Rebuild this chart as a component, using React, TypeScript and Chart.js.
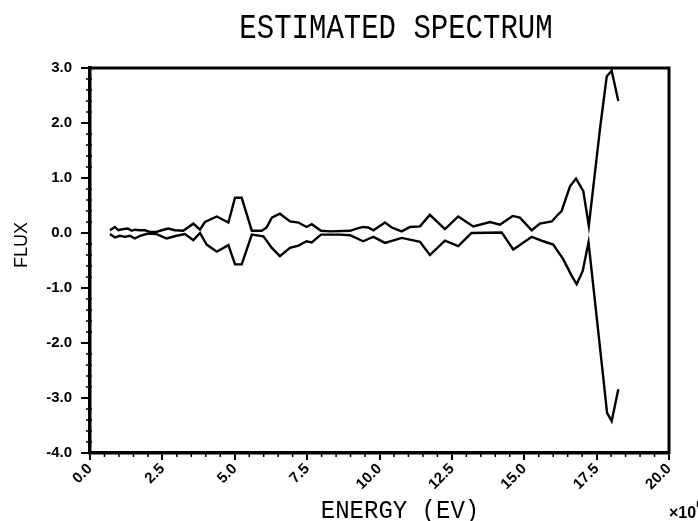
import React, { useEffect, useRef } from "react";
import { Chart, registerables } from "chart.js";
Chart.register(...registerables);

const TITLE = "ESTIMATED SPECTRUM";
const X_LABEL = "ENERGY (EV)";
const Y_LABEL = "FLUX";
const X_MULT = "×10";
const X_EXP = "6";

const X_TICKS = [0, 2.5, 5, 7.5, 10, 12.5, 15, 17.5, 20];
const Y_TICKS = [-4, -3, -2, -1, 0, 1, 2, 3];

const upperX = [0.69, 0.86, 0.98, 1.14, 1.31, 1.44, 1.55, 1.73, 1.9, 2.07, 2.3, 2.48, 2.7, 2.94, 3.22, 3.57, 3.8, 3.97, 4.38, 4.78, 5.01, 5.24, 5.59, 5.93, 6.1, 6.28, 6.56, 6.91, 7.2, 7.48, 7.66, 7.98, 8.3, 8.98, 9.21, 9.44, 9.61, 9.79, 10.19, 10.42, 10.77, 11.05, 11.4, 11.74, 12.26, 12.72, 13.24, 13.82, 14.16, 14.6, 14.85, 15.26, 15.54, 15.95, 16.12, 16.29, 16.58, 16.79, 17.04, 17.23, 17.62, 17.85, 18.02, 18.25];
const upperY = [0.05, 0.11, 0.05, 0.07, 0.08, 0.04, 0.06, 0.05, 0.05, 0.02, 0.02, 0.05, 0.08, 0.05, 0.04, 0.17, 0.06, 0.2, 0.3, 0.19, 0.64, 0.64, 0.04, 0.04, 0.1, 0.28, 0.35, 0.21, 0.19, 0.11, 0.16, 0.04, 0.03, 0.04, 0.08, 0.11, 0.1, 0.05, 0.19, 0.1, 0.03, 0.11, 0.12, 0.33, 0.07, 0.3, 0.12, 0.2, 0.15, 0.31, 0.28, 0.05, 0.17, 0.21, 0.31, 0.4, 0.85, 0.99, 0.76, 0.13, 1.91, 2.85, 2.95, 2.4];

const lowerX = [0.69, 0.86, 1.04, 1.21, 1.38, 1.55, 1.73, 2.01, 2.3, 2.65, 2.99, 3.28, 3.57, 3.8, 4.03, 4.38, 4.78, 5.01, 5.24, 5.59, 5.99, 6.28, 6.56, 6.91, 7.2, 7.48, 7.66, 7.98, 8.64, 8.98, 9.44, 9.65, 9.79, 10.19, 10.77, 11.4, 11.74, 12.26, 12.72, 13.18, 14.22, 14.62, 15.26, 15.66, 16.0, 16.34, 16.64, 16.81, 17.02, 17.22, 17.73, 17.86, 18.02, 18.25];
const lowerY = [-0.02, -0.08, -0.05, -0.07, -0.05, -0.1, -0.05, -0.01, -0.02, -0.1, -0.05, -0.02, -0.13, 0.0, -0.21, -0.34, -0.22, -0.57, -0.57, -0.03, -0.06, -0.27, -0.42, -0.27, -0.23, -0.15, -0.17, -0.03, -0.03, -0.04, -0.15, -0.1, -0.07, -0.18, -0.09, -0.16, -0.4, -0.14, -0.24, 0.0, 0.01, -0.3, -0.07, -0.15, -0.21, -0.47, -0.78, -0.93, -0.69, -0.17, -2.63, -3.27, -3.42, -2.84];

const pts = (xs: number[], ys: number[]) => xs.map((x, i) => ({ x, y: ys[i] }));

const decorPlugin = {
  id: "decor",
  afterDraw(chart: any) {
    const ctx = chart.ctx as CanvasRenderingContext2D;
    const { left, right, top, bottom } = chart.chartArea;
    const xs = chart.scales.x;
    const ys = chart.scales.y;
    ctx.save();
    ctx.strokeStyle = "#000";
    ctx.fillStyle = "#000";
    // top and right frame
    ctx.lineWidth = 3;
    ctx.beginPath();
    ctx.moveTo(left - 1, top);
    ctx.lineTo(right, top);
    ctx.lineTo(right, bottom + 1);
    ctx.stroke();
    // minor ticks
    ctx.lineWidth = 1.5;
    ctx.beginPath();
    for (let i = 1; i < 40; i++) {
      if (i % 5 === 0) continue;
      const px = xs.getPixelForValue(i * 0.5);
      ctx.moveTo(px, bottom - 2);
      ctx.lineTo(px, bottom + 4);
    }
    for (let i = 1; i < 35; i++) {
      if (i % 5 === 0) continue;
      const py = ys.getPixelForValue(-4 + i * 0.2);
      ctx.moveTo(left - 4, py);
      ctx.lineTo(left + 2, py);
    }
    ctx.stroke();
    // title
    ctx.save();
    ctx.translate(396, 38);
    ctx.scale(1, 1.2);
    ctx.font = '29px "Liberation Mono"';
    ctx.textAlign = "center";
    ctx.textBaseline = "alphabetic";
    ctx.fillText(TITLE, 0, 0);
    ctx.restore();
    // x label
    ctx.save();
    ctx.translate(400, 518);
    ctx.scale(1, 1.1);
    ctx.font = '24px "Liberation Mono"';
    ctx.textAlign = "center";
    ctx.textBaseline = "alphabetic";
    ctx.fillText(X_LABEL, 0, 0);
    ctx.restore();
    // multiplier
    ctx.font = 'bold 16px "Liberation Sans"';
    ctx.textAlign = "left";
    ctx.textBaseline = "alphabetic";
    ctx.fillText(X_MULT, 669, 518);
    const w = ctx.measureText(X_MULT).width;
    ctx.font = 'bold 11px "Liberation Sans"';
    ctx.fillText(X_EXP, 669 + w, 508);
    // y label
    ctx.save();
    ctx.translate(27, 245);
    ctx.rotate(-Math.PI / 2);
    ctx.font = '18px "Liberation Sans"';
    ctx.textAlign = "center";
    ctx.textBaseline = "alphabetic";
    ctx.fillText(Y_LABEL, 0, 0);
    ctx.restore();
    ctx.restore();
  },
};

export default function App() {
  const ref = useRef<HTMLCanvasElement>(null);
  useEffect(() => {
    const tickFont = { family: "Liberation Sans", size: 15, weight: "bold" as const };
    const chart = new Chart(ref.current!, {
      type: "line",
      data: {
        datasets: [
          { data: pts(upperX, upperY), borderColor: "#000", borderWidth: 2.4, pointRadius: 0, fill: false, tension: 0 },
          { data: pts(lowerX, lowerY), borderColor: "#000", borderWidth: 2.4, pointRadius: 0, fill: false, tension: 0 },
        ],
      },
      options: {
        animation: false,
        responsive: true,
        maintainAspectRatio: false,
        layout: { padding: { top: 68, right: 29, left: 0, bottom: 0 } },
        plugins: { legend: { display: false }, tooltip: { enabled: false }, title: { display: false } },
        scales: {
          x: {
            type: "linear",
            min: 0,
            max: 20,
            afterBuildTicks: (s: any) => { s.ticks = X_TICKS.map((v) => ({ value: v })); },
            afterFit: (s: any) => { s.height = 68; },
            grid: { display: true, drawOnChartArea: false, drawTicks: true, tickLength: 7, color: "#000", lineWidth: 2 },
            border: { display: true, color: "#000", width: 3.5 },
            ticks: { color: "#000", font: tickFont, padding: 0, maxRotation: 45, minRotation: 45, autoSkip: false, callback: (v: any) => Number(v).toFixed(1) },
          },
          y: {
            type: "linear",
            min: -4,
            max: 3,
            afterBuildTicks: (s: any) => { s.ticks = Y_TICKS.map((v) => ({ value: v })); },
            afterFit: (s: any) => { s.width = 90; },
            grid: { display: true, drawOnChartArea: false, drawTicks: true, tickLength: 9, color: "#000", lineWidth: 2 },
            border: { display: true, color: "#000", width: 3.5 },
            ticks: { color: "#000", font: tickFont, padding: 9, autoSkip: false, callback: (v: any) => Number(v).toFixed(1) },
          },
        },
      },
      plugins: [decorPlugin],
    });
    return () => chart.destroy();
  }, []);
  return (
    <div style={{ position: "fixed", left: 0, top: 0, width: 698, height: 521, background: "#fff" }}>
      <canvas ref={ref} />
    </div>
  );
}
